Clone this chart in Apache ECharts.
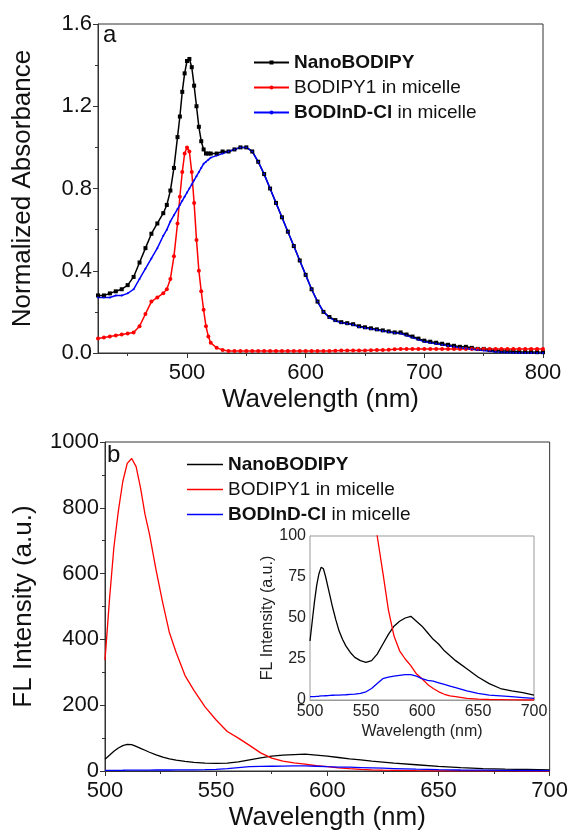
<!DOCTYPE html>
<html>
<head>
<meta charset="UTF-8">
<title>NanoBODIPY spectra</title>
<style type="text/css">
	body{margin:0;padding:0;background:#fff;}
	#main{width:571px;height:835px;}
</style>
</head>
<body>
<div id="main"></div>
<script src="https://cdn.jsdelivr.net/npm/echarts@6/dist/echarts.min.js"></script>
<script>
// ---- panel a : absorbance ----
var absWl = [425,430,435,440,445,450,455,460,465,470,475,480,483,486,489,492,494,496,498,500,502,504,506,508,510,512,514,516,518,520,525,530,535,540,545,550,555,560,565,570,575,580,585,590,595,600,605,610,615,620,625,630,635,640,645,650,655,660,665,670,675,680,685,690,695,700,705,710,715,720,725,730,735,740,745,750,755,760,765,770,775,780,785,790,795,800];
var absNano = [0.28,0.28,0.29,0.30,0.31,0.33,0.37,0.44,0.51,0.58,0.63,0.68,0.72,0.79,0.90,1.05,1.15,1.27,1.36,1.42,1.43,1.39,1.30,1.20,1.10,1.03,0.99,0.97,0.97,0.97,0.97,0.98,0.98,0.99,1.00,1.00,0.98,0.93,0.87,0.80,0.73,0.66,0.59,0.52,0.45,0.38,0.31,0.25,0.20,0.175,0.16,0.15,0.145,0.14,0.13,0.125,0.12,0.115,0.11,0.105,0.10,0.10,0.09,0.08,0.07,0.06,0.055,0.05,0.045,0.04,0.035,0.03,0.03,0.025,0.02,0.02,0.015,0.012,0.01,0.01,0.008,0.006,0.005,0.005,0.004,0.004];
var absB1 = [0.07,0.075,0.08,0.085,0.09,0.095,0.10,0.13,0.19,0.25,0.27,0.29,0.31,0.36,0.47,0.63,0.76,0.88,0.97,1.00,0.98,0.88,0.73,0.55,0.40,0.30,0.21,0.13,0.08,0.05,0.025,0.015,0.01,0.01,0.01,0.01,0.01,0.01,0.01,0.01,0.01,0.01,0.01,0.01,0.01,0.01,0.01,0.01,0.01,0.01,0.011,0.012,0.012,0.012,0.012,0.012,0.013,0.014,0.015,0.016,0.018,0.02,0.02,0.02,0.02,0.02,0.02,0.02,0.02,0.02,0.02,0.02,0.02,0.02,0.02,0.02,0.02,0.02,0.02,0.02,0.02,0.02,0.02,0.02,0.02,0.02];
var absBodind = [0.27,0.27,0.27,0.28,0.28,0.29,0.31,0.36,0.41,0.46,0.51,0.57,0.60,0.64,0.67,0.70,0.72,0.74,0.76,0.78,0.80,0.82,0.84,0.86,0.88,0.90,0.92,0.93,0.94,0.95,0.96,0.97,0.98,0.99,1.00,1.00,0.98,0.93,0.87,0.80,0.73,0.66,0.59,0.52,0.45,0.38,0.31,0.25,0.20,0.172,0.157,0.147,0.142,0.137,0.127,0.122,0.117,0.112,0.107,0.102,0.097,0.095,0.085,0.075,0.065,0.055,0.05,0.045,0.04,0.035,0.03,0.025,0.022,0.018,0.015,0.012,0.009,0.006,0.004,0.002,0.001,0,0,0,0,0];

// ---- panel b : fluorescence ----
var flWl = [500,502,504,506,508,510,512,514,516,518,520,523,526,529,532,536,540,545,550,555,560,565,570,575,580,585,590,595,600,605,610,615,620,625,630,640,650,660,670,680,690,700];
var flNano = [36,48,60,70,77,81,80,75,69,63,57,49,42,37,33,29,26,24,23,24,28,34,40,45,48,50,51,48,45,41,37,34,30,27,24,19,14,10,7,5.5,4.5,3];
var flB1 = [337,520,680,790,880,935,950,925,860,780,720,610,510,420,360,290,245,195,155,120,100,78,55,39,30,25,21,16,13,9.5,7,5,3.5,2.5,2,1,0.5,0.3,0.2,0.1,0,0];
var flBodind = [2,2,2,2.2,2.3,2.5,2.5,2.6,2.7,2.8,2.9,3,3,3.1,3.2,3.4,3.6,4,5,7,10,13,14,14.5,15,15.5,15.5,14.5,13,12,11.5,10.5,9.5,8.5,7.5,5.5,4,3,2.5,2,1.5,1];

var seriesNames = ['NanoBODIPY', 'BODIPY1 in micelle', 'BODInD-Cl in micelle'];
var seriesColors = ['#000000', '#ff0000', '#0000ff'];

var absTickLabels = [500, 600, 700, 800];
var absMinorTicks = [450, 550, 650, 750];

var FONT = 'Liberation Sans';

function pairs(xs, ys) {
	var out = [];
	for (var i = 0; i < xs.length; i++) out.push([xs[i], ys[i]]);
	return out;
}

function legendFmt(name) {
	if (name === 'NanoBODIPY') return '{b|NanoBODIPY}';
	if (name === 'BODInD-Cl in micelle') return '{b|BODInD-Cl}{n| in micelle}';
	return '{n|' + name + '}';
}

var legendRich = {
	b: {fontFamily: FONT, fontSize: 19, fontWeight: 'bold', color: '#111', lineHeight: 25},
	n: {fontFamily: FONT, fontSize: 19, color: '#111', lineHeight: 25}
};

var axisColor = '#333';
var labelStyle = {fontFamily: FONT, fontSize: 22, color: '#111'};
var nameStyle = {fontFamily: FONT, fontSize: 26, color: '#111'};

var chart = echarts.init(document.getElementById('main'));

var absData = [absNano, absB1, absBodind];
var flData = [flNano, flB1, flBodind];
var absSymbols = ['rect', 'circle', 'circle'];
var absSizes = [4, 4, 2];

var series = [];
for (var i = 0; i < 3; i++) {
	series.push({
		name: seriesNames[i], type: 'line', xAxisIndex: 0, yAxisIndex: 0,
		data: pairs(absWl, absData[i]),
		symbol: absSymbols[i], symbolSize: absSizes[i], showSymbol: true,
		color: seriesColors[i],
		lineStyle: {width: 1.5, color: seriesColors[i]},
		itemStyle: {color: seriesColors[i]},
		animation: false, z: 3
	});
}
for (var i = 0; i < 3; i++) {
	series.push({
		name: seriesNames[i], type: 'line', xAxisIndex: 2, yAxisIndex: 1,
		data: pairs(flWl, flData[i]),
		showSymbol: false, symbol: 'none',
		lineStyle: {width: 1.3, color: seriesColors[i]},
		color: seriesColors[i],
		animation: false, z: 3
	});
}
for (var i = 0; i < 3; i++) {
	series.push({
		name: seriesNames[i], type: 'line', xAxisIndex: 3, yAxisIndex: 2,
		data: pairs(flWl, flData[i]),
		showSymbol: false, symbol: 'none', clip: true,
		lineStyle: {width: 1.3, color: seriesColors[i]},
		color: seriesColors[i],
		animation: false, z: 5
	});
}

var option = {
	backgroundColor: '#fff',
	animation: false,
	grid: [
		{left: 98, top: 24, width: 445, height: 329, show: true, borderColor: axisColor, borderWidth: 1, backgroundColor: 'transparent'},
		{left: 105, top: 442, width: 446, height: 329, show: true, borderColor: axisColor, borderWidth: 1, backgroundColor: 'transparent'},
		{left: 310, top: 536, width: 224, height: 164, show: true, borderColor: '#999', borderWidth: 1, backgroundColor: '#fff', z: 4}
	],
	legend: [
		{
			data: seriesNames, left: 248, top: 45, orient: 'vertical',
			itemWidth: 35, itemHeight: 5, itemGap: 0,
			formatter: legendFmt,
			textStyle: {fontFamily: FONT, fontSize: 19, lineHeight: 25, rich: legendRich},
			selectedMode: false
		},
		{
			data: seriesNames, left: 182, top: 447, orient: 'vertical',
			icon: 'rect', itemWidth: 36, itemHeight: 1.5, itemGap: 0,
			formatter: legendFmt,
			textStyle: {fontFamily: FONT, fontSize: 19, lineHeight: 25, rich: legendRich},
			selectedMode: false
		}
	],
	xAxis: [
		{
			type: 'value', gridIndex: 0, min: 425, max: 800,
			name: 'Wavelength (nm)', nameLocation: 'middle', nameGap: 34, nameTextStyle: nameStyle,
			axisLine: {lineStyle: {color: axisColor}},
			axisTick: {length: 5, customValues: absTickLabels, lineStyle: {color: axisColor}},
			axisLabel: Object.assign({margin: 9, customValues: absTickLabels}, labelStyle),
			splitLine: {show: false}
		},
		{
			type: 'value', gridIndex: 0, min: 425, max: 800, position: 'bottom',
			axisLine: {show: false},
			axisTick: {length: 3, customValues: absMinorTicks, lineStyle: {color: axisColor}},
			axisLabel: {show: false},
			splitLine: {show: false}
		},
		{
			type: 'value', gridIndex: 1, min: 500, max: 700, interval: 50,
			name: 'Wavelength (nm)', nameLocation: 'middle', nameGap: 34, nameTextStyle: nameStyle,
			axisLine: {lineStyle: {color: axisColor}},
			axisTick: {length: 5, lineStyle: {color: axisColor}},
			minorTick: {show: true, splitNumber: 2, length: 3, lineStyle: {color: axisColor}},
			axisLabel: Object.assign({margin: 9}, labelStyle),
			splitLine: {show: false}
		},
		{
			type: 'value', gridIndex: 2, min: 500, max: 700, interval: 50,
			name: 'Wavelength (nm)', nameLocation: 'middle', nameGap: 24,
			nameTextStyle: {fontFamily: FONT, fontSize: 16, color: '#222'},
			axisLine: {lineStyle: {color: '#999'}},
			axisTick: {inside: true, length: 3, lineStyle: {color: '#999'}},
			minorTick: {show: true, splitNumber: 2, length: 2, lineStyle: {color: '#999'}},
			axisLabel: {fontFamily: FONT, fontSize: 16, color: '#222', margin: 4},
			splitLine: {show: false}
		}
	],
	yAxis: [
		{
			type: 'value', gridIndex: 0, min: 0, max: 1.6, interval: 0.4,
			name: 'Normalized Absorbance', nameLocation: 'middle', nameGap: 62, nameTextStyle: nameStyle,
			axisLine: {show: true, lineStyle: {color: axisColor}},
			axisTick: {show: true, length: 5, lineStyle: {color: axisColor}},
			minorTick: {show: true, splitNumber: 2, length: 3, lineStyle: {color: axisColor}},
			axisLabel: Object.assign({margin: 6, formatter: function (v) { return v.toFixed(1); }}, labelStyle),
			splitLine: {show: false}
		},
		{
			type: 'value', gridIndex: 1, min: 0, max: 1000, interval: 200,
			name: 'FL Intensity (a.u.)', nameLocation: 'middle', nameGap: 68, nameTextStyle: nameStyle,
			axisLine: {show: true, lineStyle: {color: axisColor}},
			axisTick: {show: true, length: 5, lineStyle: {color: axisColor}},
			minorTick: {show: true, splitNumber: 2, length: 3, lineStyle: {color: axisColor}},
			axisLabel: Object.assign({margin: 6, formatter: function (v) { return String(v); }}, labelStyle),
			splitLine: {show: false}
		},
		{
			type: 'value', gridIndex: 2, min: 0, max: 100, interval: 25,
			name: 'FL Intensity (a.u.)', nameLocation: 'middle', nameGap: 33,
			nameTextStyle: {fontFamily: FONT, fontSize: 16, color: '#222'},
			axisLine: {show: true, lineStyle: {color: '#999'}},
			axisTick: {show: true, inside: true, length: 3, lineStyle: {color: '#999'}},
			minorTick: {show: true, splitNumber: 2, length: 2, lineStyle: {color: '#999'}},
			axisLabel: {fontFamily: FONT, fontSize: 16, color: '#222', margin: 4},
			splitLine: {show: false}
		}
	],
	graphic: [
		{type: 'text', left: 103, top: 23, style: {text: 'a', fontFamily: FONT, fontSize: 24, fill: '#111'}},
		{type: 'text', left: 107, top: 443, style: {text: 'b', fontFamily: FONT, fontSize: 24, fill: '#111'}}
	],
	series: series
};

chart.setOption(option);
</script>
</body>
</html>
